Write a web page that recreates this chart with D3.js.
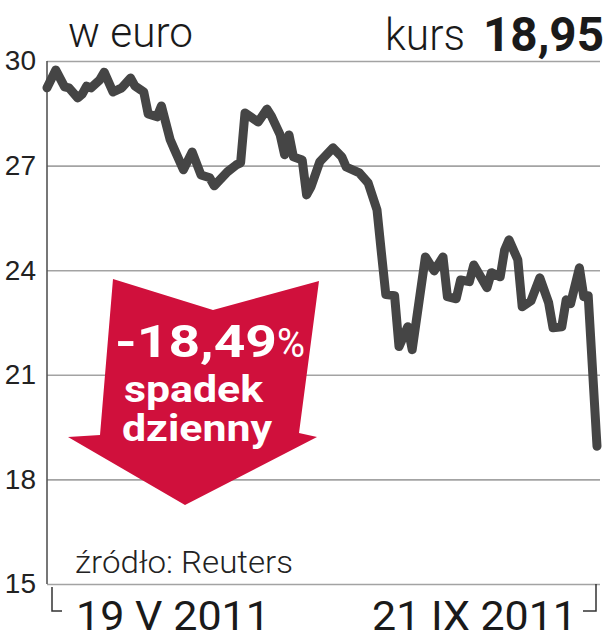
<!DOCTYPE html>
<html>
<head>
<meta charset="utf-8">
<script src="https://cdn.jsdelivr.net/npm/d3@7"></script>
<style>
  body { margin: 0; background: #fff; }
  svg { display: block; font-family: Roboto, "Liberation Sans", sans-serif; }
  .grid line { stroke: #a3a3a3; stroke-width: 1.6; }
  .grid .domain { display: none; }
  .grid text { font-size: 28px; font-weight: 300; fill: #222; }
</style>
</head>
<body>
<div id="chart"></div>
<script>
// days since 19 V 2011 (last point = 21 IX 2011)
var dayOffset = [0, 2, 4, 5, 7, 8, 9, 10, 12, 13, 15, 17, 19, 20, 22, 23, 25, 26, 28, 29,
    31, 33, 35, 37, 38, 41, 43, 44, 45, 48, 50, 51, 53, 54, 55, 56, 58, 59, 60, 62,
    65, 67, 68, 71, 73, 75, 76, 77, 79, 80, 82, 83, 86, 88, 90, 91, 93, 94, 96, 97,
    100, 101, 103, 104, 105, 107, 108, 110, 112, 114, 115, 117, 118, 119, 121, 122, 123, 125];

// closing price, euro
var price = [29.23, 29.74, 29.26, 29.23, 28.94, 29.05, 29.28, 29.23, 29.46, 29.68,
    29.11, 29.23, 29.51, 29.28, 29.11, 28.48, 28.40, 28.71, 27.74, 27.45,
    26.88, 27.39, 26.73, 26.65, 26.42, 26.82, 27.02, 27.08, 28.51, 28.25,
    28.62, 28.42, 27.88, 27.31, 27.88, 27.25, 27.16, 26.16, 26.39, 27.11,
    27.51, 27.25, 26.96, 26.79, 26.50, 25.73, 24.50, 23.30, 23.27, 21.81,
    22.38, 21.72, 24.38, 23.98, 24.38, 23.24, 23.18, 23.72, 23.67, 24.15,
    23.50, 23.93, 23.81, 24.58, 24.87, 24.30, 22.95, 23.12, 23.78, 23.07,
    22.35, 22.38, 23.15, 23.04, 24.07, 23.24, 23.27, 18.95];

var yTicks = [15, 18, 21, 24, 27, 30];
var dateLabels = ['19 V 2011', '21 IX 2011'];
var lastPrice = '18,95';
var change = '-18,49';

var width = 606, height = 640;
var margin = {top: 61, right: 6, bottom: 56, left: 47};

var svg = d3.select('#chart').append('svg')
    .attr('width', width)
    .attr('height', height);

// Scales
var x = d3.scaleLinear()
    .domain([0, 125])
    .range([margin.left, 597]);

var y = d3.scaleLinear()
    .domain([15, 30])
    .range([height - margin.bottom, margin.top]);

// Gridlines + labels
svg.append('g')
    .attr('class', 'grid')
    .attr('transform', 'translate(' + margin.left + ',0)')
    .call(d3.axisLeft(y)
        .tickValues(yTicks)
        .tickSize(-(width - margin.right - margin.left))
        .tickPadding(11)
        .tickFormat(d3.format('d')));

// left axis line
svg.append('line')
    .attr('x1', margin.left).attr('x2', margin.left)
    .attr('y1', y(30)).attr('y2', y(15))
    .attr('stroke', '#555')
    .attr('stroke-width', 1.6);

// date bracket
var yb = y(15);
svg.append('path')
    .attr('d', 'M' + (x(0) + 5) + ',' + (yb + 3) + 'V' + (yb + 27) + 'h10')
    .attr('fill', 'none').attr('stroke', '#333').attr('stroke-width', 1.5);
svg.append('path')
    .attr('d', 'M' + (x(125) - 1) + ',' + yb + 'V' + (yb + 27) + 'h-13')
    .attr('fill', 'none').attr('stroke', '#333').attr('stroke-width', 1.5);

svg.append('text')
    .attr('x', 76).attr('y', 630)
    .attr('textLength', 194).attr('lengthAdjust', 'spacingAndGlyphs')
    .style('font-size', '40px').style('font-weight', 400).style('fill', '#1a1a1a')
    .text(dateLabels[0]);
svg.append('text')
    .attr('x', 372).attr('y', 630)
    .attr('textLength', 205).attr('lengthAdjust', 'spacingAndGlyphs')
    .style('font-size', '40px').style('font-weight', 400).style('fill', '#1a1a1a')
    .text(dateLabels[1]);

// Title and source
svg.append('text')
    .attr('x', 68).attr('y', 47)
    .attr('textLength', 125).attr('lengthAdjust', 'spacingAndGlyphs')
    .style('font-size', '42px').style('font-weight', 300).style('fill', '#1a1a1a')
    .text('w euro');
svg.append('text')
    .attr('x', 385).attr('y', 50)
    .attr('textLength', 80).attr('lengthAdjust', 'spacingAndGlyphs')
    .style('font-size', '44px').style('font-weight', 300).style('fill', '#1a1a1a')
    .text('kurs');
svg.append('text')
    .attr('x', 483).attr('y', 51)
    .attr('textLength', 121).attr('lengthAdjust', 'spacingAndGlyphs')
    .style('font-size', '48px').style('font-weight', 700).style('fill', '#1a1a1a')
    .text(lastPrice);
svg.append('text')
    .attr('x', 75).attr('y', 573)
    .attr('textLength', 218).attr('lengthAdjust', 'spacingAndGlyphs')
    .style('font-size', '32px').style('font-weight', 300).style('fill', '#222')
    .text('źródło: Reuters');

// Red arrow
var arrow = [[113, 279], [213, 310], [319, 281], [299, 433], [317, 437],
    [185, 505], [68, 437], [100, 435]];
svg.append('path')
    .attr('d', 'M' + arrow.join('L') + 'Z')
    .attr('fill', '#d0103c');

svg.append('text')
    .attr('x', 115).attr('y', 357)
    .attr('textLength', 162).attr('lengthAdjust', 'spacingAndGlyphs')
    .style('font-size', '45px').style('font-weight', 700).style('fill', '#fff')
    .text(change);
svg.append('text')
    .attr('x', 277).attr('y', 357)
    .attr('textLength', 28).attr('lengthAdjust', 'spacingAndGlyphs')
    .style('font-size', '40px').style('font-weight', 400).style('fill', '#fff')
    .text('%');
svg.append('text')
    .attr('x', 124).attr('y', 402)
    .attr('textLength', 139).attr('lengthAdjust', 'spacingAndGlyphs')
    .style('font-size', '37px').style('font-weight', 700).style('fill', '#fff')
    .text('spadek');
svg.append('text')
    .attr('x', 122).attr('y', 441)
    .attr('textLength', 150).attr('lengthAdjust', 'spacingAndGlyphs')
    .style('font-size', '37px').style('font-weight', 700).style('fill', '#fff')
    .text('dzienny');

// Plot
var data = dayOffset.map(function(d, i) { return {day: d, value: price[i]}; });

var line = d3.line()
    .x(function(d) { return x(d.day); })
    .y(function(d) { return y(d.value); });

svg.append('path')
    .datum(data)
    .attr('d', line)
    .attr('fill', 'none')
    .attr('stroke', '#454545')
    .attr('stroke-width', 9)
    .attr('stroke-linejoin', 'round')
    .attr('stroke-linecap', 'round');
</script>
</body>
</html>
